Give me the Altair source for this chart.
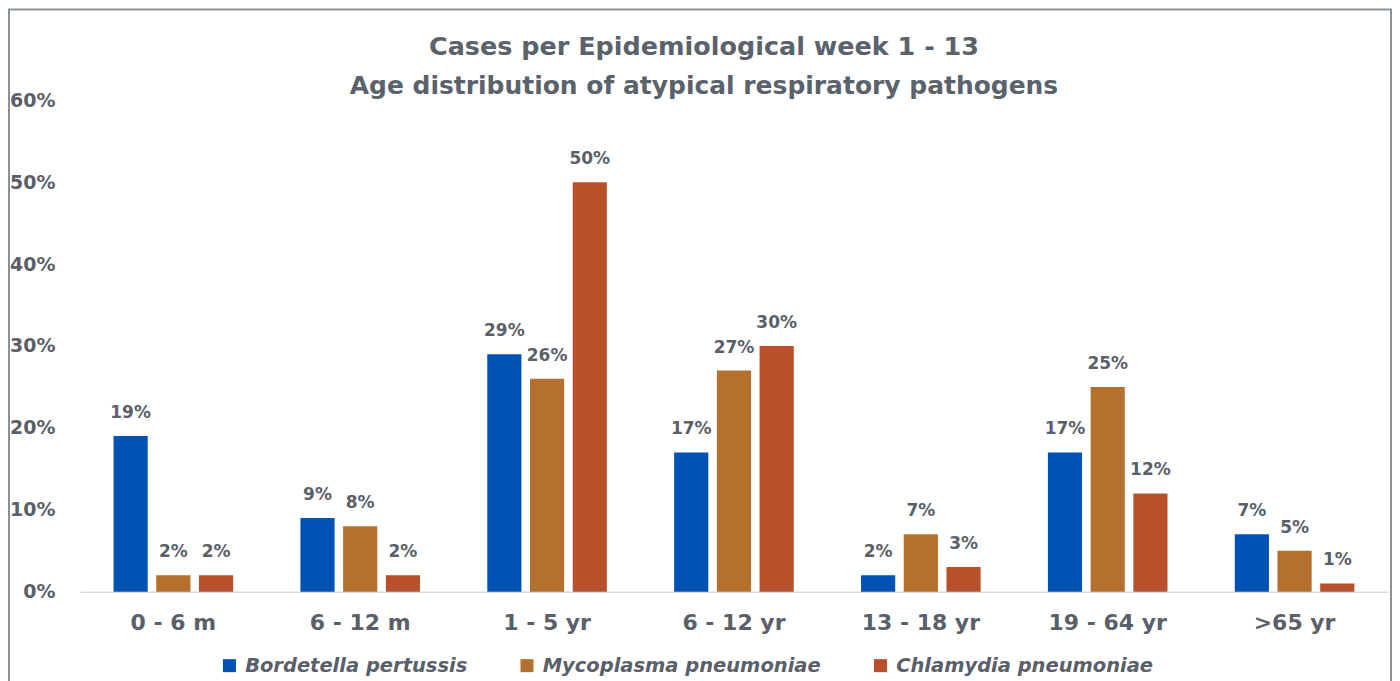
import altair as alt
import pandas as pd

categories = ["0 - 6 m", "6 - 12 m", "1 - 5 yr", "6 - 12 yr", "13 - 18 yr", "19 - 64 yr", ">65 yr"]
series = ["Bordetella pertussis", "Mycoplasma pneumoniae", "Chlamydia pneumoniae"]
bordetella = [19, 9, 29, 17, 2, 17, 7]
mycoplasma = [2, 8, 26, 27, 7, 25, 5]
chlamydia = [2, 2, 50, 30, 3, 12, 1]
colors = ["#0052B4", "#B4702C", "#B9502C"]
title_lines = ["Cases per Epidemiological week 1 - 13", "Age distribution of atypical respiratory pathogens"]

rows = []
for s, vals in zip(series, [bordetella, mycoplasma, chlamydia]):
    for c, v in zip(categories, vals):
        rows.append({"age": c, "pathogen": s, "value": v / 100.0, "label": f"{v}%"})
df = pd.DataFrame(rows)

TEXT = "#5A6069"
FONT = "DejaVu Sans"
W, H = 1310, 492

x_enc = alt.X("age:N", sort=categories,
              scale=alt.Scale(paddingInner=0.36, paddingOuter=0.18),
              axis=alt.Axis(title=None, labelAngle=0, labelFontSize=22, labelFontWeight="bold",
                            labelColor=TEXT, labelFont=FONT, labelPadding=21, ticks=False, grid=False,
                            domainColor="#D9D9D9", domainWidth=1.5))
xo_enc = alt.XOffset("pathogen:N", sort=series, scale=alt.Scale(paddingInner=0.2))
y_enc = alt.Y("value:Q", scale=alt.Scale(domain=[0, 0.6]),
              axis=alt.Axis(title=None, format=".0%", values=[0, 0.1, 0.2, 0.3, 0.4, 0.5, 0.6],
                            grid=False, domain=False, ticks=False, labelPadding=25,
                            labelFontSize=19, labelFontWeight="bold", labelColor=TEXT, labelFont=FONT))

bars = alt.Chart(df).mark_bar().encode(
    x=x_enc, xOffset=xo_enc, y=y_enc,
    color=alt.Color("pathogen:N", sort=series,
                    scale=alt.Scale(domain=series, range=colors),
                    legend=alt.Legend(title=None, orient="none", direction="horizontal",
                                      legendX=140, legendY=556, symbolType="square",
                                      symbolSize=170, symbolStrokeWidth=0, columnPadding=50,
                                      labelFontSize=19.5, labelFontStyle="italic", labelFontWeight="bold",
                                      labelColor=TEXT, labelFont=FONT, labelLimit=0,
                                      symbolOffset=0, labelOffset=6)),
)

labels = alt.Chart(df).mark_text(dy=-18, baseline="alphabetic", fontSize=17, fontWeight="bold",
                                 color=TEXT, font=FONT).encode(
    x=x_enc, xOffset=xo_enc, y=y_enc, text="label:N")

title1 = alt.Chart(pd.DataFrame({"t": [title_lines[0]]})).mark_text(
    fontSize=25.5, fontWeight="bold", color="#5A626C", font=FONT, align="center", baseline="middle"
).encode(text="t:N", x=alt.value(625), y=alt.value(-53))
title2 = alt.Chart(pd.DataFrame({"t": [title_lines[1]]})).mark_text(
    fontSize=25, fontWeight="bold", color="#5A626C", font=FONT, align="center", baseline="middle"
).encode(text="t:N", x=alt.value(625), y=alt.value(-14))

border = alt.Chart(pd.DataFrame({"a": [0]})).mark_rect(
    fill=None, stroke="#8C9196", strokeWidth=2
).encode(x=alt.value(-71), x2=alt.value(W + 3), y=alt.value(-91), y2=alt.value(H + 120))

chart = alt.layer(border, bars, labels, title1, title2).properties(
    width=W, height=H,
    autosize=alt.AutoSizeParams(type="none"),
    padding={"left": 72, "top": 92, "right": 4, "bottom": 89},
    view=alt.ViewBackground(stroke="transparent", strokeWidth=0),
).configure_view(stroke="transparent", strokeWidth=0).configure(font=FONT)

chart.save("out.html", embed_options={"renderer": "svg", "actions": False})
